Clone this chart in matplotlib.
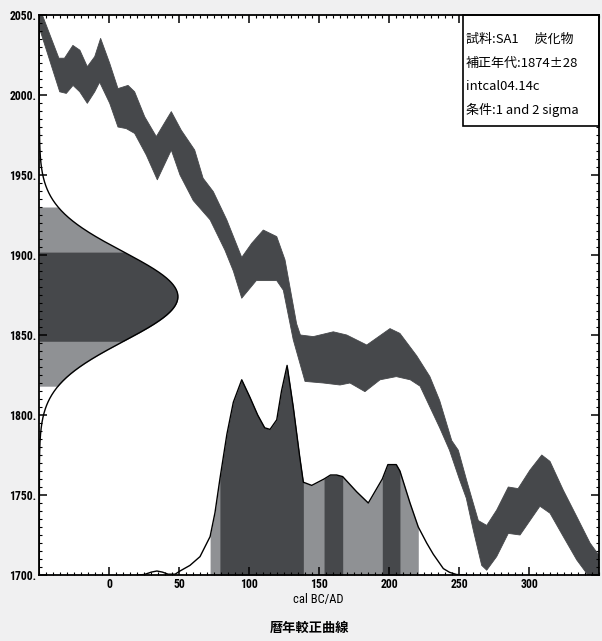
import numpy as np
import matplotlib
matplotlib.use('Agg')
import matplotlib.pyplot as plt
from matplotlib.ticker import MultipleLocator, FixedLocator, FixedFormatter
from matplotlib.patches import Rectangle
from matplotlib import font_manager

plt.rcParams['font.family'] = ['Noto Sans CJK JP', 'DejaVu Sans']

# ---------------- data ----------------
# calibration curve band (upper and lower edges), cal BC/AD vs 14C BP
upper_cal = [-50, -36, -32, -26, -21, -15.7, -10.4, -6.2, 0.3, 6.2, 13.4, 18.1, 25.3, 33.6,
             40.7, 44.3, 51.4, 61, 67, 74.3, 83.9, 94.6, 101.7, 110, 119.6, 125.5, 133.8,
             136.5, 145.7, 160, 169.6, 183.9, 200.5, 207.6, 219.6, 229, 236, 244.6, 249.3,
             255.3, 263.6, 269.6, 276.7, 285, 292, 300.5, 308.9, 314.8, 324.3, 333.9, 343.4, 350]
upper_bp = [2055, 2023, 2023, 2031, 2028, 2017.7, 2024, 2035.4, 2019.8, 2004, 2006, 2002, 1986.4, 1974,
            1984.4, 1989.6, 1978, 1965.6, 1948, 1939.6, 1922, 1898.5, 1907.3, 1915.6, 1911.5, 1897, 1857,
            1850, 1849, 1852, 1850, 1843.75, 1854, 1851, 1837, 1824, 1809, 1784, 1778,
            1759, 1734, 1731, 1740.6, 1755, 1754, 1765.6, 1775, 1771, 1753, 1736.5, 1720, 1712]
lower_cal = [-50, -35.4, -30.7, -25.9, -21.1, -15.7, -10.4, -6.9, 0.3, 6.2, 12.1, 18.1, 26.4, 34.3,
             44.3, 50.5, 60, 72, 82.6, 88.6, 94.6, 105, 119.6, 124.3, 131.4, 139.8, 152.9, 164.8,
             171.9, 182.6, 193.4, 205, 215, 222, 229, 236, 243, 250, 255, 260, 266, 269.6, 276.7,
             285, 293.4, 300.5, 307.6, 314.8, 324.3, 333.9, 341, 350]
lower_bp = [2042, 2002, 2001, 2006, 2002, 1994.8, 2002, 2008, 1994.8, 1980, 1979, 1976, 1962.5, 1947,
            1965.6, 1950, 1934, 1922, 1903, 1890, 1873, 1884, 1884, 1878, 1847, 1821, 1820, 1818.75,
            1820, 1814.6, 1822, 1824, 1822, 1818, 1805, 1792, 1778, 1760, 1748, 1728, 1706, 1703, 1711.5,
            1726, 1725, 1734, 1743, 1738.6, 1724, 1709.4, 1701, 1692]

# calibrated probability distribution (height above the 1700 baseline, axis units)
prob_cal = [20, 25, 30, 34, 38, 42, 47, 50.5, 57.6, 64.8, 72, 75.5, 79, 84, 88.6, 94.6, 100.5,
            106, 111, 114.8, 119.6, 123, 127, 131.4, 136, 138.6, 144.6, 153.4, 158, 162.4, 166.7,
            176.7, 185, 195, 199, 205, 207.6, 214.8, 220.7, 226.7, 231.4, 238.6, 243, 248, 255]
prob_height = [0, 0.3, 1.8, 2.5, 1.8, 0.5, 0.5, 2.5, 6, 11.5, 24, 39, 60, 88, 108, 122, 111,
               100, 92, 91, 97, 115, 131, 105, 74, 58, 56, 60, 62.5, 62.5, 61.5,
               52, 45, 60, 69, 69, 65, 45, 30, 20, 13, 4, 1.7, 0.3, 0]

# measured radiocarbon age
measured_bp = 1874
measured_err = 28
gauss_peak_width = 99          # peak width of the age distribution (cal-axis units)

sigma1_ranges = [(79, 138.6), (153.4, 166.7), (195, 207.6)]
sigma2_ranges = [(72, 220.7)]

x_ticks = [0, 50, 100, 150, 200, 250, 300]
x_tick_labels = ['0', '50', '100', '150', '200', '250', '300']
y_ticks = [1700, 1750, 1800, 1850, 1900, 1950, 2000, 2050]
y_tick_labels = ['1700.', '1750.', '1800.', '1850.', '1900.', '1950.', '2000.', '2050.']

info_lines = ['試料:SA1\u3000 炭化物', '補正年代:1874±28', 'intcal04.14c', '条件:1 and 2 sigma']
x_label = 'cal BC/AD'
title = '暦年較正曲線'

# ---------------- style ----------------
DARK = '#46484b'
LIGHT = '#8f9194'
BG = '#f0f0f1'

available = {f.name for f in font_manager.fontManager.ttflist}
tick_family = ['DejaVu Sans']
tick_size = 7.5
for cand in ['Liberation Sans Narrow', 'DejaVu Sans Condensed', 'Roboto Condensed']:
    if cand in available:
        tick_family = [cand]
        tick_size = 8.5
        break

W, H = 602, 641
fig = plt.figure(figsize=(W / 100, H / 100), dpi=100, facecolor=BG)
ax_l, ax_r, ax_t, ax_b = 39.3, 599.3, 15, 575
ax = fig.add_axes([ax_l / W, 1 - ax_b / H, (ax_r - ax_l) / W, (ax_b - ax_t) / H])
ax.set_facecolor('white')
xmin, xmax, ymin, ymax = -50, 350, 1700, 2050
ax.set_xlim(xmin, xmax)
ax.set_ylim(ymin, ymax)

# calibration band
poly_x = np.concatenate([upper_cal, lower_cal[::-1]])
poly_y = np.concatenate([upper_bp, lower_bp[::-1]])
ax.fill(poly_x, poly_y, color=DARK, lw=0.6, ec=DARK, joinstyle='round', zorder=1)

# measured age distribution on y-axis
def gauss(y):
    return xmin + gauss_peak_width * np.exp(-0.5 * ((y - measured_bp) / measured_err) ** 2)

s2lo, s2hi = measured_bp - 2 * measured_err, measured_bp + 2 * measured_err
s1lo, s1hi = measured_bp - measured_err, measured_bp + measured_err
for lo, hi, c in [(s2lo, s1lo, LIGHT), (s1hi, s2hi, LIGHT), (s1lo, s1hi, DARK)]:
    yy = np.linspace(lo, hi, 200)
    ax.fill_betweenx(yy, xmin, gauss(yy), color=c, lw=0, zorder=1.2)
yy = np.linspace(ymin, ymax, 800)
ax.plot(gauss(yy), yy, color='black', lw=1.0, zorder=1.5)

# calibrated distribution
pc = np.array(prob_cal)
ph = ymin + np.array(prob_height)
for lo, hi in sigma2_ranges:
    ax.fill_between(pc, ymin, ph, where=(pc >= lo) & (pc <= hi), color=LIGHT, lw=0, zorder=1.2)
for lo, hi in sigma1_ranges:
    ax.fill_between(pc, ymin, ph, where=(pc >= lo) & (pc <= hi), color=DARK, lw=0, zorder=1.3)
ax.plot(pc, ph, color='black', lw=1.0, zorder=1.5)

# info box
box_left = (462.7 - ax_l) / (ax_r - ax_l)
box_bottom = (ax_b - 126) / (ax_b - ax_t)
ax.add_patch(Rectangle((box_left, box_bottom), 1 - box_left, 1 - box_bottom,
                       transform=ax.transAxes, facecolor='white', edgecolor='black',
                       lw=1.2, zorder=2, clip_on=False))
line_px = [39, 63, 87, 110]
for txt, py in zip(info_lines, line_px):
    ax.text((466 - ax_l) / (ax_r - ax_l), (ax_b - py) / (ax_b - ax_t), txt,
            transform=ax.transAxes, fontsize=9.4, va='center', ha='left', zorder=3,
            family=['Noto Sans CJK JP', 'DejaVu Sans'])

# ticks
ax.xaxis.set_major_locator(FixedLocator(x_ticks))
ax.xaxis.set_major_formatter(FixedFormatter(x_tick_labels))
ax.xaxis.set_minor_locator(MultipleLocator(5))
ax.yaxis.set_major_locator(FixedLocator(y_ticks))
ax.yaxis.set_major_formatter(FixedFormatter(y_tick_labels))
ax.yaxis.set_minor_locator(MultipleLocator(5))
ax.tick_params(which='both', direction='in', top=True, right=True, color='black')
ax.tick_params(which='major', length=6, width=1.1, labelsize=tick_size, pad=2)
ax.tick_params(which='minor', length=2.2, width=0.8)
for lab in ax.get_xticklabels() + ax.get_yticklabels():
    lab.set_family(tick_family)
    lab.set_fontweight('bold')
for s in ax.spines.values():
    s.set_linewidth(1.3)
    s.set_zorder(4)

fig.text(318 / W, 1 - 600 / H, x_label, ha='center', va='center', fontsize=9,
         family=tick_family)
fig.text(310 / W, 1 - 628 / H, title, ha='center', va='center', fontsize=9.5,
         fontweight='bold')

fig.savefig('out.png', dpi=100, facecolor=BG)
